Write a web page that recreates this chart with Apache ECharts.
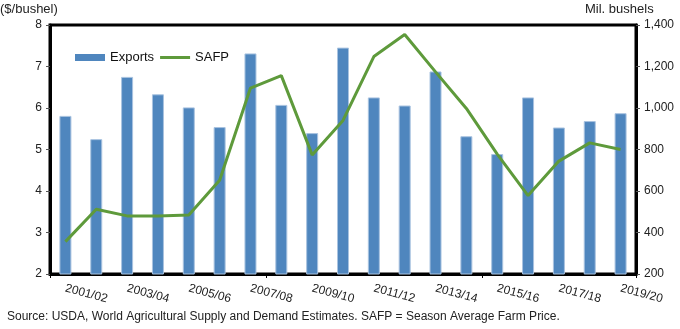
<!DOCTYPE html>
<html>
<head>
<meta charset="utf-8">
<script src="https://cdn.jsdelivr.net/npm/echarts@6/dist/echarts.min.js"></script>
<style>
  html, body { margin: 0; padding: 0; background: #fff; }
  #chart { width: 680px; height: 329px; }
</style>
</head>
<body>
<div id="chart"></div>
<script>
// Marketing years
const years = ['2001/02','2002/03','2003/04','2004/05','2005/06','2006/07','2007/08','2008/09','2009/10','2010/11',
               '2011/12','2012/13','2013/14','2014/15','2015/16','2016/17','2017/18','2018/19','2019/20'];
// Wheat exports, million bushels (right axis)
const exportsMilBu = [962, 850, 1150, 1066, 1003, 908, 1263, 1015, 879, 1291,
                      1051, 1012, 1176, 864, 778, 1051, 906, 937, 975];
// Season average farm price, $/bushel (left axis)
const safp = [2.78, 3.56, 3.40, 3.40, 3.42, 4.26, 6.48, 6.78, 4.87, 5.70,
              7.24, 7.77, 6.87, 5.99, 4.89, 3.89, 4.72, 5.16, 5.00];

const FONT = 'Liberation Sans, Arial, sans-serif';
const chart = echarts.init(document.getElementById('chart'));

chart.setOption({
  animation: false,
  textStyle: { fontFamily: FONT },
  grid: { left: 50, right: 44, top: 25, bottom: 55, show: true, borderColor: '#000', borderWidth: 3 },
  graphic: [
    { type: 'text', left: 0, top: 3, style: { text: '($/bushel)', font: '13px ' + FONT, fill: '#222' } },
    { type: 'text', left: 585, top: 3, style: { text: 'Mil. bushels', font: '13px ' + FONT, fill: '#222' } },
    { type: 'text', left: 7, top: 311, style: { text: 'Source: USDA, World Agricultural Supply and Demand Estimates. SAFP = Season Average Farm Price.', font: '12px ' + FONT, fill: '#222' } }
  ],
  legend: {
    left: 70, top: 46,
    itemGap: 6, itemWidth: 30, itemHeight: 7,
    textStyle: { fontSize: 13, color: '#111', fontFamily: FONT },
    data: [
      { name: 'Exports', icon: 'rect', itemStyle: { borderWidth: 0 } },
      { name: 'SAFP', icon: 'path://M0,0 L30,0 L30,3 L0,3 Z' }
    ]
  },
  xAxis: {
    type: 'category',
    data: years,
    boundaryGap: true,
    axisLine: { lineStyle: { color: '#000', width: 3 } },
    axisTick: { show: true, interval: 6, length: 4, lineStyle: { color: '#000' } },
    axisLabel: { interval: 1, rotate: -15, fontSize: 12, color: '#222', margin: 14, fontFamily: FONT }
  },
  yAxis: [
    {
      type: 'value', min: 2, max: 8, interval: 1,
      axisLine: { show: true, lineStyle: { color: '#000', width: 3 } },
      axisTick: { show: true, length: 4, lineStyle: { color: '#555' } },
      axisLabel: { fontSize: 12, color: '#222', margin: 8, fontFamily: FONT },
      splitLine: { show: false }
    },
    {
      type: 'value', min: 200, max: 1400, interval: 200,
      axisLine: { show: true, lineStyle: { color: '#000', width: 3 } },
      axisTick: { show: true, length: 4, lineStyle: { color: '#555' } },
      axisLabel: {
        fontSize: 12, color: '#222', margin: 8, fontFamily: FONT,
        formatter: v => v.toLocaleString('en-US')
      },
      splitLine: { show: false }
    }
  ],
  series: [
    {
      name: 'Exports', type: 'bar', yAxisIndex: 1,
      data: exportsMilBu, barWidth: 12,
      itemStyle: { color: '#4F86BE', borderColor: '#A9C3E0', borderWidth: 1 }
    },
    {
      name: 'SAFP', type: 'line', yAxisIndex: 0,
      data: safp, symbol: 'none', z: 5,
      lineStyle: { color: '#5E9A3B', width: 3 },
      itemStyle: { color: '#5E9A3B' }
    }
  ]
});
</script>
</body>
</html>
